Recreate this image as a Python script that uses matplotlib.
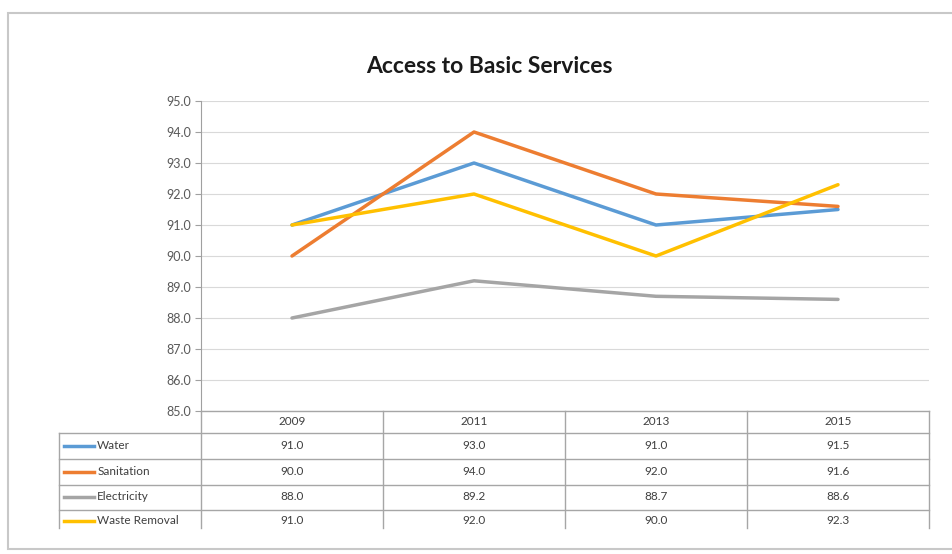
import matplotlib.pyplot as plt
from matplotlib.patches import Rectangle

years = ["2009", "2011", "2013", "2015"]
water = [91.0, 93.0, 91.0, 91.5]
sanitation = [90.0, 94.0, 92.0, 91.6]
electricity = [88.0, 89.2, 88.7, 88.6]
waste = [91.0, 92.0, 90.0, 92.3]

series = ["Water", "Sanitation", "Electricity", "Waste Removal"]
values = [water, sanitation, electricity, waste]
colors = ["#5B9BD5", "#ED7D31", "#A5A5A5", "#FFC000"]

plt.rcParams['font.family'] = ['Lato', 'DejaVu Sans']

W, H = 952, 554
fig = plt.figure(figsize=(W / 100, H / 100), dpi=100)

# chart frame
fig.patches.append(Rectangle((8 / W, 5 / H), 1.2, 536 / H, transform=fig.transFigure,
                             facecolor="white", edgecolor="#c8c8c8", lw=1.5, zorder=-5))

def px(l, t, r, b):
    return [l / W, 1 - b / H, (r - l) / W, (b - t) / H]

ax = fig.add_axes(px(201, 101, 929, 411))
ax.patch.set_alpha(0)
x = list(range(len(years)))
for vals, c in zip(values, colors):
    ax.plot(x, vals, color=c, lw=2.5, solid_capstyle="round")
ax.set_xlim(-0.5, 3.5)
ax.set_ylim(85, 95)
ax.set_yticks([85 + i for i in range(11)])
ax.set_yticklabels([f"{85 + i:.1f}" for i in range(11)], fontsize=9, color="#595959")
ax.set_xticks([])
ax.grid(axis="y", color="#d9d9d9", lw=0.8)
ax.set_axisbelow(True)
for s in ["top", "right", "bottom"]:
    ax.spines[s].set_visible(False)
ax.spines["left"].set_color("#a0a0a0")
ax.tick_params(axis="y", length=4, color="#a0a0a0", pad=3)
ax.set_title("Access to Basic Services", fontsize=16.5, fontweight="bold", color="#1a1a1a",
             pad=20, x=0.396)

# data table
tb = fig.add_axes(px(201, 411, 929, 528))
tb.set_xlim(-0.5, 3.5)
tb.set_ylim(528, 411)
tb.axis("off")
lc = "#a6a6a6"
tc = "#3f3f3f"
row_top = [433, 459, 485, 510]
row_mid = [446, 472, 497, 521]
lab_left = -0.5 - (201 - 59) / 182
tb.plot([-0.5, 3.5], [411, 411], color=lc, lw=1, clip_on=False)
for i in range(len(years) + 1):
    tb.plot([i - 0.5, i - 0.5], [411, 528], color=lc, lw=1, clip_on=False)
for y in row_top:
    tb.plot([lab_left, 3.5], [y, y], color=lc, lw=1, clip_on=False)
tb.plot([lab_left, lab_left], [433, 528], color=lc, lw=1, clip_on=False)
for i, yr in enumerate(years):
    tb.text(i, 422, yr, ha="center", va="center", fontsize=8.5, color=tc)
for r, (name, vals, c) in enumerate(zip(series, values, colors)):
    y = row_mid[r]
    tb.plot([lab_left + 0.025, lab_left + 0.195], [y, y], color=c, lw=2.5, clip_on=False)
    tb.text(lab_left + 0.21, y, name, ha="left", va="center", fontsize=8.5, color=tc)
    for i, v in enumerate(vals):
        tb.text(i, y, f"{v:.1f}", ha="center", va="center", fontsize=8.5, color=tc)

fig.savefig("out.png", dpi=100)
